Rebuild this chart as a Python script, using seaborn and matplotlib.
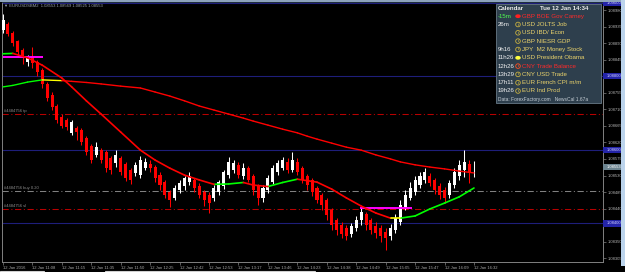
import matplotlib
matplotlib.use("Agg")
import matplotlib.pyplot as plt
import matplotlib.transforms as mtransforms
from matplotlib.patches import Rectangle, Ellipse
import numpy as np
import pandas as pd
import seaborn as sns

# ---------------- data ----------------
open_ = [1.08926, 1.08942, 1.08918, 1.08896, 1.08871, 1.08839, 1.08852, 1.08839, 1.08817, 1.08779,
         1.08749, 1.08719, 1.08689, 1.08681, 1.08646, 1.08659, 1.08654, 1.08632, 1.08610, 1.08586,
         1.08599, 1.08594, 1.08578, 1.08564, 1.08578, 1.08561, 1.08545, 1.08537, 1.08531, 1.08550,
         1.08561, 1.08553, 1.08531, 1.08512, 1.08485, 1.08469, 1.08491, 1.08501, 1.08512, 1.08518,
         1.08501, 1.08485, 1.08477, 1.08469, 1.08485, 1.08501, 1.08531, 1.08545, 1.08559, 1.08529,
         1.08550, 1.08529, 1.08501, 1.08469, 1.08491, 1.08512, 1.08540, 1.08550, 1.08567, 1.08545,
         1.08567, 1.08550, 1.08529, 1.08518, 1.08496, 1.08477, 1.08463, 1.08436, 1.08409, 1.08395,
         1.08387, 1.08371, 1.08387, 1.08409, 1.08425, 1.08409, 1.08393, 1.08387, 1.08376, 1.08366,
         1.08382, 1.08404, 1.08444, 1.08469, 1.08485, 1.08504, 1.08518, 1.08529, 1.08518, 1.08501,
         1.08491, 1.08477, 1.08504, 1.08529, 1.08545, 1.08561, 1.08553]
high_ = [1.08969, 1.08947, 1.08923, 1.08898, 1.08877, 1.08858, 1.08879, 1.08844, 1.08822, 1.08784,
         1.08757, 1.08724, 1.08697, 1.08686, 1.08681, 1.08665, 1.08659, 1.08637, 1.08616, 1.08621,
         1.08605, 1.08599, 1.08583, 1.08599, 1.08583, 1.08567, 1.08550, 1.08567, 1.08583, 1.08578,
         1.08572, 1.08559, 1.08540, 1.08518, 1.08491, 1.08504, 1.08518, 1.08529, 1.08540, 1.08523,
         1.08510, 1.08491, 1.08485, 1.08504, 1.08518, 1.08545, 1.08580, 1.08572, 1.08567, 1.08564,
         1.08556, 1.08534, 1.08507, 1.08504, 1.08531, 1.08559, 1.08572, 1.08580, 1.08578, 1.08594,
         1.08578, 1.08556, 1.08534, 1.08523, 1.08501, 1.08482, 1.08469, 1.08442, 1.08414, 1.08404,
         1.08395, 1.08401, 1.08420, 1.08442, 1.08431, 1.08414, 1.08404, 1.08395, 1.08387, 1.08398,
         1.08425, 1.08463, 1.08491, 1.08512, 1.08529, 1.08540, 1.08550, 1.08537, 1.08523, 1.08510,
         1.08499, 1.08518, 1.08550, 1.08572, 1.08599, 1.08572, 1.08569]
low_ = [1.08918, 1.08909, 1.08882, 1.08858, 1.08833, 1.08828, 1.08822, 1.08801, 1.08768, 1.08733,
        1.08708, 1.08673, 1.08659, 1.08654, 1.08640, 1.08627, 1.08613, 1.08586, 1.08564, 1.08580,
        1.08564, 1.08540, 1.08534, 1.08553, 1.08531, 1.08515, 1.08507, 1.08529, 1.08523, 1.08545,
        1.08540, 1.08512, 1.08491, 1.08469, 1.08444, 1.08463, 1.08482, 1.08491, 1.08504, 1.08485,
        1.08469, 1.08447, 1.08428, 1.08461, 1.08477, 1.08493, 1.08523, 1.08537, 1.08523, 1.08520,
        1.08512, 1.08477, 1.08450, 1.08458, 1.08482, 1.08507, 1.08531, 1.08545, 1.08537, 1.08540,
        1.08531, 1.08510, 1.08491, 1.08474, 1.08455, 1.08436, 1.08409, 1.08382, 1.08368, 1.08360,
        1.08355, 1.08363, 1.08379, 1.08395, 1.08382, 1.08371, 1.08360, 1.08349, 1.08327, 1.08355,
        1.08374, 1.08395, 1.08436, 1.08463, 1.08477, 1.08496, 1.08510, 1.08501, 1.08480, 1.08466,
        1.08455, 1.08469, 1.08496, 1.08518, 1.08526, 1.08510, 1.08525]
close_ = [1.08953, 1.08915, 1.08890, 1.08866, 1.08852, 1.08850, 1.08836, 1.08811, 1.08779, 1.08741,
          1.08716, 1.08681, 1.08665, 1.08662, 1.08675, 1.08648, 1.08621, 1.08594, 1.08572, 1.08607,
          1.08572, 1.08550, 1.08545, 1.08586, 1.08540, 1.08523, 1.08518, 1.08559, 1.08572, 1.08567,
          1.08550, 1.08523, 1.08504, 1.08477, 1.08463, 1.08496, 1.08510, 1.08523, 1.08529, 1.08496,
          1.08477, 1.08463, 1.08455, 1.08496, 1.08512, 1.08540, 1.08567, 1.08564, 1.08531, 1.08550,
          1.08518, 1.08491, 1.08469, 1.08496, 1.08523, 1.08550, 1.08564, 1.08572, 1.08545, 1.08572,
          1.08540, 1.08518, 1.08504, 1.08485, 1.08463, 1.08450, 1.08423, 1.08395, 1.08382, 1.08371,
          1.08366, 1.08393, 1.08409, 1.08431, 1.08395, 1.08382, 1.08374, 1.08366, 1.08360, 1.08387,
          1.08414, 1.08450, 1.08477, 1.08496, 1.08518, 1.08529, 1.08540, 1.08510, 1.08491, 1.08477,
          1.08469, 1.08510, 1.08540, 1.08559, 1.08567, 1.08537, 1.08553]

ma_idx = [0, 2, 5, 8, 12, 14, 17, 20, 24, 28, 31, 34, 37, 40, 43, 46, 49, 51, 54, 57, 60, 62, 64,
          67, 70, 73, 76, 79, 81, 84, 87, 90, 93, 96]
fast_ma = [1.08861, 1.08862, 1.08850, 1.08830, 1.08795, 1.08771, 1.08733, 1.08697, 1.08648, 1.08599,
           1.08572, 1.08550, 1.08531, 1.08518, 1.08506, 1.08507, 1.08511, 1.08504, 1.08500, 1.08511,
           1.08520, 1.08516, 1.08512, 1.08493, 1.08469, 1.08447, 1.08428, 1.08414, 1.08414, 1.08420,
           1.08439, 1.08455, 1.08472, 1.08496]
slow_ma = [1.08771, 1.08775, 1.08784, 1.08790, 1.08788, 1.08786, 1.08783, 1.08779, 1.08773, 1.08768,
           1.08757, 1.08746, 1.08733, 1.08719, 1.08708, 1.08697, 1.08686, 1.08678, 1.08667, 1.08656,
           1.08646, 1.08637, 1.08629, 1.08618, 1.08607, 1.08599, 1.08586, 1.08575, 1.08567, 1.08559,
           1.08553, 1.08548, 1.08542, 1.08537]

blue_levels = [1.09000, 1.08800, 1.08600, 1.08400]
tp_level, buy_level, sl_level = 1.08697, 1.08488, 1.08439
magenta_levels = [(1.08852, 0.0, 8.2), (1.08442, 72.8, 83.4)]
current_price = 1.08553
price_ticks = [1.08980, 1.08935, 1.08890, 1.08845, 1.08800, 1.08755, 1.08710, 1.08665, 1.08620,
               1.08575, 1.08530, 1.08485, 1.08440, 1.08395, 1.08350, 1.08305]
hidden_ticks = [1.08800, 1.08395]
time_tick_idx = [0, 6, 12, 18, 24, 30, 36, 42, 48, 54, 60, 66, 72, 78, 84, 90, 96]
time_labels = ["12 Jan 2016", "12 Jan 11:08", "12 Jan 11:15", "12 Jan 11:35", "12 Jan 11:50",
               "12 Jan 12:25", "12 Jan 12:42", "12 Jan 12:53", "12 Jan 13:17", "12 Jan 13:46",
               "12 Jan 14:23", "12 Jan 14:38", "12 Jan 14:49", "12 Jan 15:05", "12 Jan 15:47",
               "12 Jan 16:09", "12 Jan 16:32"]

cal_times = ["-15m", "26m", "", "", "9h16", "11h26", "12h26", "13h29", "17h11", "19h26"]
cal_events = ["GBP BOE Gov Carney", "USD JOLTS Job", "USD IBD/ Econ", "GBP NIESR GDP",
              "JPY  M2 Money Stock", "USD President Obama", "CNY Trade Balance", "CNY USD Trade",
              "EUR French CPI m/m", "EUR Ind Prod"]
cal_impact = ["high", "low", "low", "low", "low", "speech", "high", "low", "low", "low"]

# ---------------- style ----------------
sns.set_theme(style="dark", rc={
    "axes.facecolor": "black", "figure.facecolor": "black", "axes.edgecolor": "#808080",
    "axes.grid": False, "xtick.color": "#808080", "ytick.color": "#808080",
})
plt.rcParams["font.family"] = ["Liberation Sans", "DejaVu Sans"]

W, H = 625, 272
fig = plt.figure(figsize=(W / 100, H / 100), dpi=100, facecolor="black")
ax = fig.add_axes([2 / W, 10 / H, 601 / W, 260 / H])
ax.set_facecolor("black")

# ---------------- candles ----------------
df = pd.DataFrame({"i": np.arange(len(close_)), "open": open_, "high": high_,
                   "low": low_, "close": close_})
up = df["close"] >= df["open"]
cols = np.where(up, "#ffffff", "#ff0000")
ax.vlines(df["i"], df["low"], df["high"], colors=cols, lw=0.75, zorder=3)
body = (df["close"] - df["open"]).abs().clip(lower=0.000012)
ax.bar(df["i"], body, bottom=np.minimum(df["open"], df["close"]), width=0.62,
       color=cols, linewidth=0, zorder=3)

# ---------------- levels ----------------
for lv in blue_levels:
    ax.axhline(lv, color="#1e1e7a", lw=0.8, zorder=1)
dd = (0, (6, 2.5, 1, 2.5))
ax.axhline(tp_level, color="#b80000", lw=0.75, ls=dd, zorder=1)
ax.axhline(sl_level, color="#b80000", lw=0.75, ls=dd, zorder=1)
ax.axhline(buy_level, color="#808080", lw=0.75, ls=dd, zorder=1)
for lv, x0, x1 in magenta_levels:
    ax.hlines(lv, x0, x1, color="#ff00ff", lw=1.4, zorder=4)

lab_kw = dict(fontsize=3.0, color="#8c8c8c", ha="left", va="bottom", zorder=4)
ax.text(0.3, tp_level + 0.00002, "#4484756 tp", **lab_kw)
ax.text(0.3, buy_level + 0.00002, "#4484756 buy 0.20", **lab_kw)
ax.text(0.3, sl_level + 0.00002, "#4484756 sl", **lab_kw)

# ---------------- moving averages (slope coloured) ----------------
def seg_frame(idx, vals, name):
    rows = []
    for k in range(len(idx) - 1):
        slope = (vals[k + 1] - vals[k]) / (idx[k + 1] - idx[k]) / 1e-5
        st = "up" if slope > 0.3 else ("down" if slope < -0.7 else "flat")
        for j in (k, k + 1):
            rows.append({"x": idx[j], "y": vals[j], "seg": f"{name}{k}", "state": st})
    return pd.DataFrame(rows)

pal = {"up": "#00ff00", "down": "#ff0000", "flat": "#ffff00"}
sns.lineplot(data=seg_frame(ma_idx, slow_ma, "s"), x="x", y="y", units="seg", hue="state",
             palette=pal, estimator=None, sort=False, legend=False, lw=1.0, ax=ax,
             solid_capstyle="round", zorder=5)
sns.lineplot(data=seg_frame(ma_idx, fast_ma, "f"), x="x", y="y", units="seg", hue="state",
             palette=pal, estimator=None, sort=False, legend=False, lw=1.2, ax=ax,
             solid_capstyle="round", zorder=5)

# ---------------- axes ----------------
ax.set_xlim(-0.204, 122.3)
ax.set_ylim(1.082948, 1.090018)
ax.set_xlabel("")
ax.set_ylabel("")
for s in ax.spines.values():
    s.set_color("#808080")
    s.set_linewidth(0.7)
ax.spines["top"].set_color("#203040")

ax.yaxis.tick_right()
ax.set_yticks(price_ticks)
ax.set_yticklabels(["" if v in hidden_ticks else f"{v:.5f}" for v in price_ticks])
ax.tick_params(axis="y", which="both", right=True, left=False, labelright=True, labelleft=False,
               length=2, width=0.5, color="#808080", labelcolor="#b4b4b4", labelsize=3.0, pad=1.5)
ax.set_xticks(time_tick_idx)
ax.set_xticklabels(time_labels)
for t in ax.get_xticklabels():
    t.set_ha("left")
ax.tick_params(axis="x", bottom=True, length=2, width=0.5, color="#808080",
               labelcolor="#a8a8a8", labelsize=3.0, pad=1)

trans = mtransforms.blended_transform_factory(ax.transAxes, ax.transData)
hh = 3.2 * 2.719e-5
for lv in blue_levels:
    ax.add_patch(Rectangle((1.0, lv - hh), 19 / 601, 2 * hh, transform=trans, clip_on=False,
                           fc="#2424a8", ec="none", zorder=8))
    ax.text(1.0 + 4 / 601, lv, f"{lv:.5f}", transform=trans, ha="left", va="center",
            fontsize=3.0, color="#d0d0ff", clip_on=False, zorder=9)
ax.add_patch(Rectangle((1.0, current_price - hh), 19 / 601, 2 * hh, transform=trans,
                       clip_on=False, fc="#6c8490", ec="none", zorder=8))
ax.text(1.0 + 4 / 601, current_price, f"{current_price:.5f}", transform=trans, ha="left",
        va="center", fontsize=3.0, color="#ffffff", clip_on=False, zorder=9)

# ---------------- overlay (window chrome, title, calendar) ----------------
ov = fig.add_axes([0, 0, 1, 1], zorder=10)
ov.set_xlim(0, W)
ov.set_ylim(H, 0)
ov.axis("off")
ov.patch.set_visible(False)

ov.add_patch(Rectangle((0, 0), W, 1.5, fc="#8ea4bc", ec="none"))
ov.add_patch(Rectangle((621, 0), 4, 266, fc="#bcd4ec", ec="none"))
ov.plot([0, 44], [271.3, 271.3], color="#d0d0d0", lw=0.8)
ov.plot([105, 315], [271.3, 271.3], color="#d0d0d0", lw=0.8)

ov.text(4, 6, "\u25bc EURUSDSBM2  1.08553 1.08569 1.08525 1.08553", fontsize=3.0,
        color="#9aa4ae", va="center", ha="left")

ov.add_patch(Rectangle((496, 4), 105, 99, fc="#2e3f4d", ec="#5d6d7a", lw=0.7))
ov.text(497.8, 8, "Calendar", fontsize=4.4, color="#ececec", va="center", ha="left",
        fontweight="bold")
ov.text(588, 8, "Tue 12 Jan 14:34", fontsize=4.4, color="#ececec", va="center", ha="right",
        fontweight="bold")
row_y = [16.2, 24.5, 32.8, 41.1, 49.5, 57.8, 66.1, 74.4, 82.7, 91.0]
for k in range(len(cal_events)):
    y = row_y[k]
    tcol = "#50ff50" if cal_times[k].startswith("-") else "#f0f0f0"
    ov.text(497.8, y, cal_times[k], fontsize=4.4, color=tcol, va="center", ha="left")
    ecol = "#ff2a2a" if cal_impact[k] == "high" else "#ecd46c"
    ov.text(522.5, y, cal_events[k], fontsize=4.4, color=ecol, va="center", ha="left")
    if k == 0:
        ov.add_patch(Ellipse((518, y), 5.5, 3.8, fc="#ff2020", ec="none"))
    elif cal_impact[k] == "speech":
        ov.add_patch(Ellipse((518, y), 5.5, 3.8, fc="#ffff40", ec="none"))
    else:
        icol = "#ff5020" if cal_impact[k] == "high" else "#c8b040"
        ov.add_patch(Ellipse((518, y), 4.6, 4.6, fc="none", ec=icol, lw=0.6))
        ov.text(518, y, "i", fontsize=2.6, color=icol, va="center", ha="center",
                fontweight="bold")
ov.text(497.8, 99, "Data: ForexFactory.com   NewsCal 1.67a", fontsize=3.5, color="#c4ccd4",
        va="center", ha="left")

fig.savefig("out.png", dpi=100, facecolor="black")
